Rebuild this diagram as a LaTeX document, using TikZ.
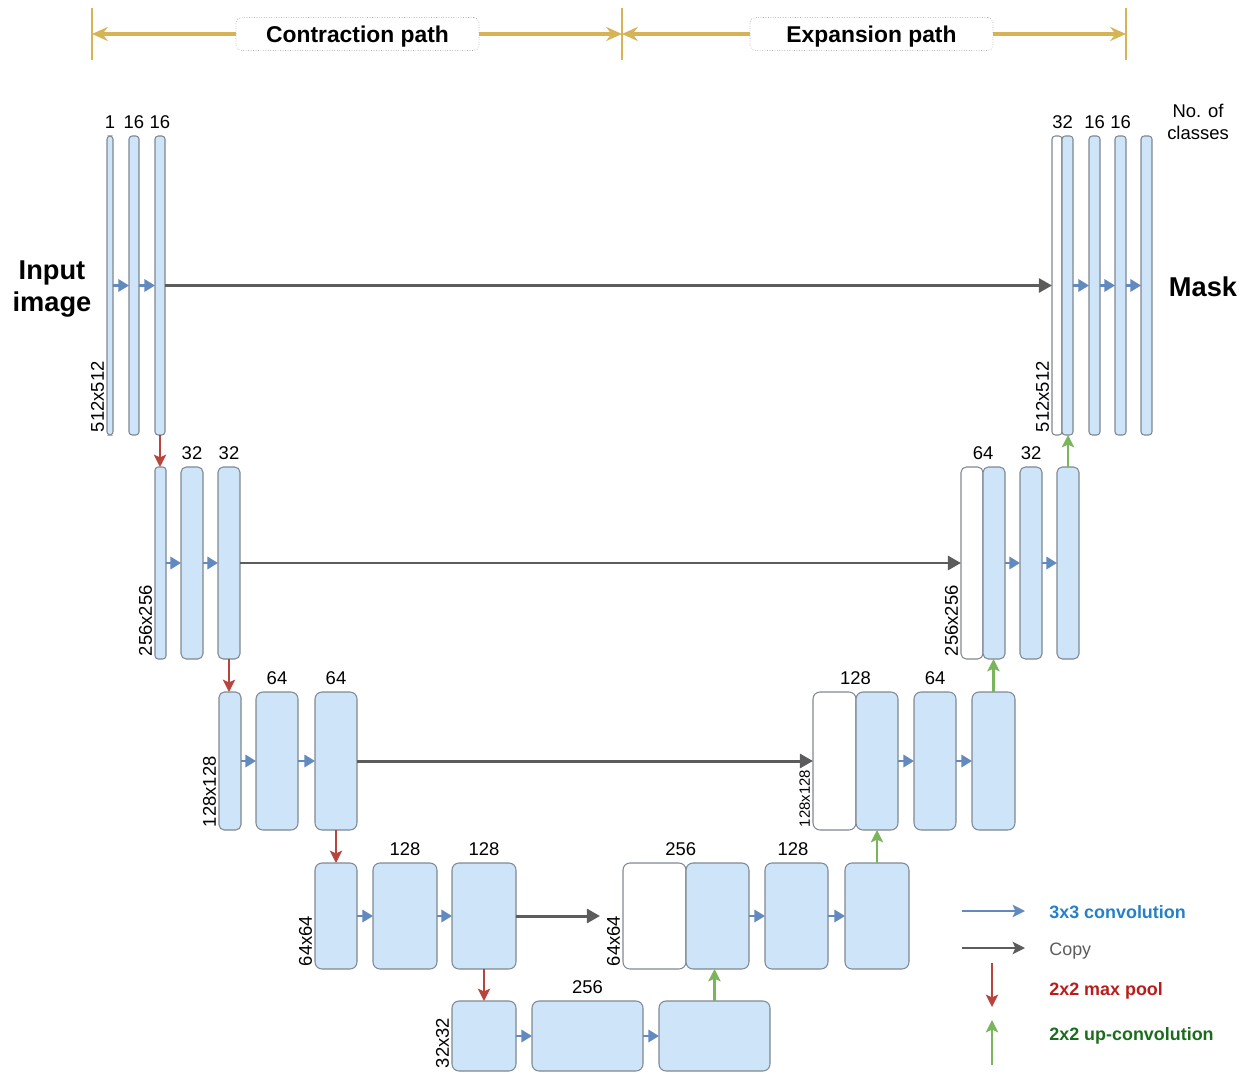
\documentclass[tikz,border=0pt]{standalone}
\usepackage{fontspec}
\setmainfont{Liberation Sans}
\usetikzlibrary{arrows.meta,calc}
\definecolor{barfill}{RGB}{205,228,249}
\definecolor{bordergray}{RGB}{128,136,146}
\definecolor{convblue}{RGB}{98,138,190}
\definecolor{copygray}{RGB}{92,92,92}
\definecolor{poolred}{RGB}{184,68,62}
\definecolor{upgreen}{RGB}{122,180,92}
\definecolor{goldc}{RGB}{214,180,86}
\definecolor{txtblue}{RGB}{38,128,200}
\definecolor{txtred}{RGB}{186,28,28}
\definecolor{txtgreen}{RGB}{28,108,30}
\newcommand{\blk}[6]{\node[#6, minimum width={(#3-#2)*0.02cm}, minimum height={(#5-#4)*0.02cm}] (#1) at ({(#2+#3)/2},{(#4+#5)/2}) {};}
\begin{document}
\begin{tikzpicture}[x=0.02cm,y=-0.02cm,
  bar/.style={draw=bordergray, fill=barfill, line width=0.6pt, rounded corners=1.8pt, inner sep=0pt, outer sep=0pt},
  wbar/.style={bar, fill=white},
  mbar/.style={bar, rounded corners=3pt},
  wmbar/.style={mbar, fill=white},
  bbox/.style={bar, rounded corners=4pt},
  wbox/.style={bbox, fill=white},
  conv/.style={convblue, line width=1.3pt, -{Triangle[length=6pt,width=7pt]}},
  copyarr/.style={copygray, line width=1.7pt, -{Triangle[length=7.5pt,width=8pt]}},
  pool/.style={poolred, line width=1.3pt, -{Stealth[length=7pt,width=7pt,inset=1.5pt]}},
  uparr/.style={upgreen, line width=1.3pt, -{Stealth[length=7pt,width=7pt,inset=1.5pt]}},
  goldarr/.style={goldc, line width=2pt, -{Stealth[length=9pt,width=8pt,inset=3pt]}},
  goldline/.style={goldc, line width=1.4pt},
  titlebox/.style={draw=gray!60, densely dotted, fill=white, rounded corners=3pt, minimum width=4.86cm, minimum height=0.66cm, inner sep=0pt, text depth=0pt, font=\fontsize{13}{15}\selectfont\bfseries},
  lab/.style={font=\fontsize{10.5}{12}\selectfont, inner sep=0pt, anchor=south},
  sz/.style={font=\fontsize{10.5}{12}\selectfont, rotate=90, anchor=south west, inner sep=1.5pt},
  szs/.style={sz, font=\fontsize{8.5}{10}\selectfont},
  big/.style={font=\fontsize{15.5}{18}\selectfont\bfseries, align=center, inner sep=0pt},
  legtxt/.style={anchor=west, inner sep=0pt, font=\fontsize{10.2}{12}\selectfont\bfseries}
]
\useasboundingbox (0,0) rectangle (1250,1074);

% ---- top bracket ----
\coordinate (v1t) at (92,8);   \coordinate (v1b) at (92,60);
\coordinate (v2t) at (622,8);  \coordinate (v2b) at (622,60);
\coordinate (v3t) at (1126,8); \coordinate (v3b) at (1126,60);
\coordinate (v1) at (92,34); \coordinate (v2) at (622,34); \coordinate (v3) at (1126,34);
\draw[goldline] (v1t) -- (v1b);
\draw[goldline] (v2t) -- (v2b);
\draw[goldline] (v3t) -- (v3b);
\node[titlebox] (tc) at (357.5,34) {Contraction path};
\node[titlebox] (te) at (871.5,34) {Expansion path};
\draw[goldarr] (tc.west) -- (v1);
\draw[goldarr] (tc.east) -- (v2);
\draw[goldarr] (te.west) -- (v2);
\draw[goldarr] (te.east) -- (v3);

% ---- level 1 ----
\blk{l1a}{107}{113}{136}{435}{bar}
\blk{l1b}{129}{139}{136}{435}{bar}
\blk{l1c}{155}{165}{136}{435}{bar}
\blk{r1w}{1052}{1062}{136}{435}{wbar}
\blk{r1b}{1062}{1073}{136}{435}{bar}
\blk{r1c}{1089}{1100}{136}{435}{bar}
\blk{r1d}{1115}{1126}{136}{435}{bar}
\blk{r1e}{1141}{1152}{136}{435}{bar}
\draw[conv] (l1a.east) -- (l1b.west);
\draw[conv] (l1b.east) -- (l1c.west);
\draw[copyarr] (l1c.east) -- (r1w.west);
\draw[conv] (r1b.east) -- (r1c.west);
\draw[conv] (r1c.east) -- (r1d.west);
\draw[conv] (r1d.east) -- (r1e.west);
\node[lab] (n11) at ([yshift=4pt]l1a.north) {1};
\node[lab] (n12) at ([yshift=4pt]l1b.north) {16};
\node[lab] (n13) at ([yshift=4pt]l1c.north) {16};
\node[lab] (n14) at ([yshift=4pt]$(r1w.north west)!0.5!(r1b.north east)$) {32};
\node[lab] (n15) at ([yshift=4pt]r1c.north) {16};
\node[lab] (n16) at ([yshift=4pt]r1d.north) {16};
\node[sz] (s1l) at (l1a.south west) {512x512};
\node[sz] (s1r) at (r1w.south west) {512x512};
\node[font=\fontsize{10.5}{12.5}\selectfont, align=center, inner sep=0pt] (ncl) at (1198,122) {No. of\\classes};
\node[big] (inp) at (52,289) {Input\\image};
\node[big] (msk) at (1203,287) {Mask};

% ---- level 2 ----
\blk{l2a}{155}{166}{467}{659}{bar}
\blk{l2b}{181}{203}{467}{659}{mbar}
\blk{l2c}{218}{240}{467}{659}{mbar}
\blk{r2w}{961}{983}{467}{659}{wmbar}
\blk{r2b}{983}{1005}{467}{659}{mbar}
\blk{r2c}{1020}{1042}{467}{659}{mbar}
\blk{r2d}{1057}{1079}{467}{659}{mbar}
\draw[pool] (l1c.south) -- (l1c.south |- l2a.north);
\draw[conv] (l2a.east) -- (l2b.west);
\draw[conv] (l2b.east) -- (l2c.west);
\draw[copyarr] (l2c.east) -- (r2w.west);
\draw[conv] (r2b.east) -- (r2c.west);
\draw[conv] (r2c.east) -- (r2d.west);
\draw[uparr] (r2d.north) -- (r2d.north |- r1b.south);
\node[lab] (n21) at ([yshift=4pt]l2b.north) {32};
\node[lab] (n22) at ([yshift=4pt]l2c.north) {32};
\node[lab] (n23) at ([yshift=4pt]$(r2w.north west)!0.5!(r2b.north east)$) {64};
\node[lab] (n24) at ([yshift=4pt]r2c.north) {32};
\node[sz] (s2l) at (l2a.south west) {256x256};
\node[sz] (s2r) at (r2w.south west) {256x256};

% ---- level 3 ----
\blk{l3a}{219}{241}{692}{830}{mbar}
\blk{l3b}{256}{298}{692}{830}{bbox}
\blk{l3c}{315}{357}{692}{830}{bbox}
\blk{r3w}{813}{856}{692}{830}{wbox}
\blk{r3b}{856}{898}{692}{830}{bbox}
\blk{r3c}{914}{956}{692}{830}{bbox}
\blk{r3d}{972}{1015}{692}{830}{bbox}
\draw[pool] (l2c.south) -- (l2c.south |- l3a.north);
\draw[conv] (l3a.east) -- (l3b.west);
\draw[conv] (l3b.east) -- (l3c.west);
\draw[copyarr] (l3c.east) -- (r3w.west);
\draw[conv] (r3b.east) -- (r3c.west);
\draw[conv] (r3c.east) -- (r3d.west);
\draw[uparr] (r3d.north) -- (r3d.north |- r2b.south);
\node[lab] (n31) at ([yshift=4pt]l3b.north) {64};
\node[lab] (n32) at ([yshift=4pt]l3c.north) {64};
\node[lab] (n33) at ([yshift=4pt]$(r3w.north west)!0.5!(r3b.north east)$) {128};
\node[lab] (n34) at ([yshift=4pt]r3c.north) {64};
\node[sz] (s3l) at (l3a.south west) {128x128};
\node[szs] (s3r) at (r3w.south west) {128x128};

% ---- level 4 ----
\blk{l4a}{315}{357}{863}{969}{bbox}
\blk{l4b}{373}{437}{863}{969}{bbox}
\blk{l4c}{452}{516}{863}{969}{bbox}
\blk{r4w}{623}{686}{863}{969}{wbox}
\blk{r4b}{686}{749}{863}{969}{bbox}
\blk{r4c}{765}{828}{863}{969}{bbox}
\blk{r4d}{845}{909}{863}{969}{bbox}
\draw[pool] (l3c.south) -- (l3c.south |- l4a.north);
\draw[conv] (l4a.east) -- (l4b.west);
\draw[conv] (l4b.east) -- (l4c.west);
\draw[copyarr, shorten >=0.46cm] (l4c.east) -- (r4w.west);
\draw[conv] (r4b.east) -- (r4c.west);
\draw[conv] (r4c.east) -- (r4d.west);
\draw[uparr] (r4d.north) -- (r4d.north |- r3b.south);
\node[lab] (n41) at ([yshift=4pt]l4b.north) {128};
\node[lab] (n42) at ([yshift=4pt]l4c.north) {128};
\node[lab] (n43) at ([yshift=4pt,xshift=-3pt]$(r4w.north west)!0.5!(r4b.north east)$) {256};
\node[lab] (n44) at ([yshift=4pt,xshift=-2pt]r4c.north) {128};
\node[sz] (s4l) at (l4a.south west) {64x64};
\node[sz] (s4r) at (r4w.south west) {64x64};

% ---- level 5 ----
\blk{l5a}{452}{516}{1001}{1071}{bbox}
\blk{l5b}{532}{643}{1001}{1071}{bbox}
\blk{l5c}{659}{770}{1001}{1071}{bbox}
\draw[pool] (l4c.south) -- (l4c.south |- l5a.north);
\draw[conv] (l5a.east) -- (l5b.west);
\draw[conv] (l5b.east) -- (l5c.west);
\draw[uparr] (l5c.north) -- (l5c.north |- r4b.south);
\node[lab] (n51) at ([yshift=4pt]l5b.north) {256};
\node[sz] (s5l) at (l5a.south west) {32x32};

% ---- legend ----
\coordinate (lg1a) at (962,911);  \coordinate (lg1b) at (1025,911);
\coordinate (lg2a) at (962,948);  \coordinate (lg2b) at (1025,948);
\coordinate (lg3a) at (992,963);  \coordinate (lg3b) at (992,1007);
\coordinate (lg4a) at (992,1065); \coordinate (lg4b) at (992,1020);
\draw[convblue, line width=1.3pt, -{Stealth[length=7pt,width=7pt,inset=1.5pt]}] (lg1a) -- (lg1b);
\draw[copygray, line width=1.3pt, -{Stealth[length=7pt,width=7pt,inset=1.5pt]}] (lg2a) -- (lg2b);
\draw[pool] (lg3a) -- (lg3b);
\draw[uparr] (lg4a) -- (lg4b);
\node[legtxt, text=txtblue] (lt1) at (1049,912) {3x3 convolution};
\node[legtxt, text=copygray, font=\fontsize{10.2}{12}\selectfont] (lt2) at (1049,951) {Copy};
\node[legtxt, text=txtred] (lt3) at (1049,991) {2x2 max pool};
\node[legtxt, text=txtgreen] (lt4) at (1049,1036) {2x2 up-convolution};
\end{tikzpicture}
\end{document}
